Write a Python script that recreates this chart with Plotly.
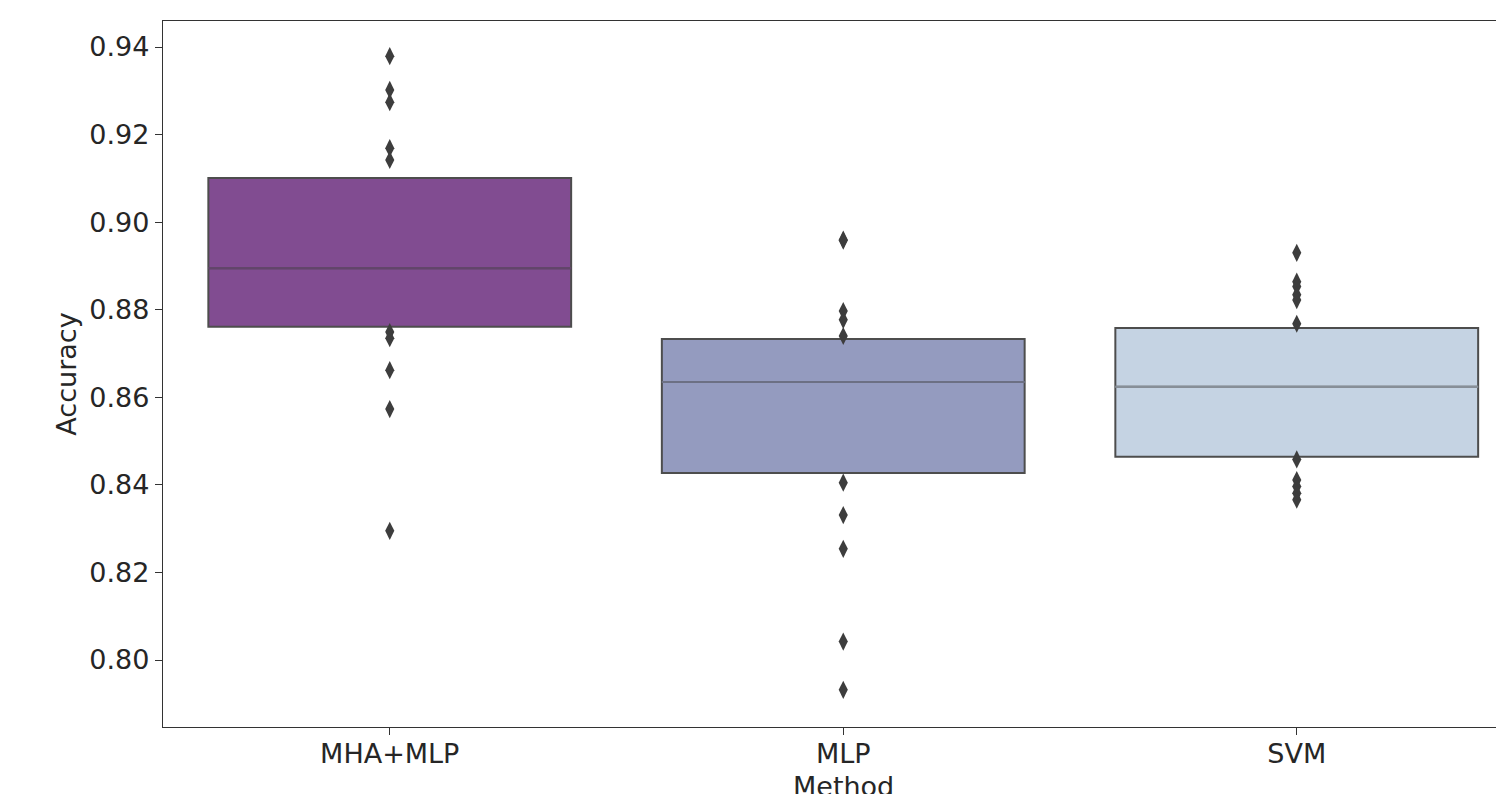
import plotly.graph_objects as go

methods = ["MHA+MLP", "MLP", "SVM"]
q1 = [0.8761, 0.8427, 0.8464]
median = [0.8895, 0.8635, 0.8624]
q3 = [0.9101, 0.8733, 0.8758]
fill_colors = ["#814c91", "#949bbf", "#c5d3e3"]

outliers = {
    "MHA+MLP": [0.9379, 0.9302, 0.9274, 0.9169, 0.9142, 0.8749, 0.8735,
                0.8662, 0.8573, 0.8295],
    "MLP": [0.8960, 0.8958, 0.8797, 0.8777, 0.8740, 0.8405, 0.8331,
            0.8254, 0.8042, 0.7932],
    "SVM": [0.8930, 0.8864, 0.8853, 0.8834, 0.8822, 0.8768, 0.8458,
            0.8411, 0.8396, 0.8381, 0.8366],
}

yticks = [0.80, 0.82, 0.84, 0.86, 0.88, 0.90, 0.92, 0.94]

fig = go.Figure()
box_w = 0.8
for i, m in enumerate(methods):
    fig.add_trace(go.Box(
        x=[i], q1=[q1[i]], median=[median[i]], q3=[q3[i]],
        lowerfence=[q1[i]], upperfence=[q3[i]],
        width=box_w, fillcolor=fill_colors[i],
        line=dict(color="#4d4d4d", width=2),
        boxpoints=False, whiskerwidth=0, showlegend=False, hoverinfo="skip",
    ))
    # median line drawn semi-transparent like seaborn boxenplot
    fig.add_trace(go.Scatter(
        x=[i - box_w / 2, i + box_w / 2], y=[median[i], median[i]],
        mode="lines", line=dict(color=fill_colors[i], width=2),
        showlegend=False, hoverinfo="skip",
    ))
    fig.add_trace(go.Scatter(
        x=[i - box_w / 2, i + box_w / 2], y=[median[i], median[i]],
        mode="lines", line=dict(color="rgba(60,60,60,0.45)", width=2),
        showlegend=False, hoverinfo="skip",
    ))
    fig.add_trace(go.Scatter(
        x=[i] * len(outliers[m]), y=outliers[m], mode="markers",
        marker=dict(symbol="diamond-tall", size=13, color="#3d3d3d",
                    line=dict(width=0)),
        showlegend=False,
    ))

fig.update_layout(
    width=1496, height=786,
    margin=dict(l=155, r=0, t=13, b=67),
    paper_bgcolor="white", plot_bgcolor="white",
    font=dict(family="DejaVu Sans", size=27, color="#262626"),
    xaxis=dict(
        range=[-0.5, 2.457], tickmode="array",
        tickvals=list(range(len(methods))), ticktext=methods,
        showgrid=False, zeroline=False, showline=True, mirror=True,
        linecolor="#333333", linewidth=1.3, automargin=False,
        ticks="outside", ticklen=7, tickcolor="#333333",
        ticklabelstandoff=-5,
    ),
    yaxis=dict(
        range=[0.7847, 0.94594], tickmode="array", tickvals=yticks,
        ticktext=[f"{v:.2f}" for v in yticks],
        showgrid=False, zeroline=False, showline=True, mirror=False,
        linecolor="#333333", linewidth=1.3, automargin=False,
        ticks="outside", ticklen=7, tickcolor="#333333",
        title=dict(text="Accuracy", standoff=4, font=dict(size=27)),
    ),
    annotations=[dict(
        text="Method", xref="x", x=1, yref="paper", y=-0.059,
        xanchor="center", yanchor="top", showarrow=False,
        font=dict(size=27, color="#262626"),
    )],
)

fig.write_html("out.html")
